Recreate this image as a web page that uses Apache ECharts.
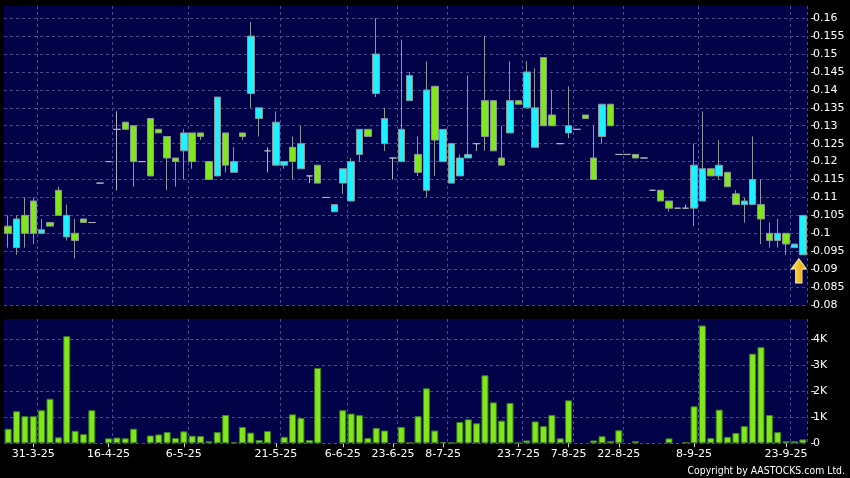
<!DOCTYPE html>
<html>
<head>
<meta charset="utf-8">
<script src="https://cdn.jsdelivr.net/npm/echarts@6/dist/echarts.min.js"></script>
<style>
  html, body { margin: 0; padding: 0; background: #000; }
  #chart { width: 850px; height: 478px; }
</style>
</head>
<body>
<div id="chart"></div>
<script>
// trading days (one candle each)
const dates = [
  '26-3-25', '27-3-25', '28-3-25', '31-3-25',
  '1-4-25', '2-4-25', '3-4-25', '7-4-25', '8-4-25', '9-4-25', '10-4-25', '11-4-25',
  '16-4-25',
  '17-4-25', '22-4-25', '23-4-25', '24-4-25', '25-4-25', '28-4-25', '29-4-25', '30-4-25',
  '6-5-25',
  '7-5-25', '8-5-25', '9-5-25', '12-5-25', '13-5-25', '14-5-25', '15-5-25', '16-5-25', '19-5-25', '20-5-25',
  '21-5-25',
  '23-5-25', '26-5-25', '27-5-25', '28-5-25', '29-5-25', '3-6-25', '5-6-25',
  '6-6-25',
  '9-6-25', '11-6-25', '13-6-25', '17-6-25', '19-6-25',
  '23-6-25',
  '24-6-25', '26-6-25', '30-6-25', '3-7-25', '7-7-25',
  '8-7-25',
  '9-7-25', '10-7-25', '11-7-25', '14-7-25', '15-7-25', '17-7-25', '18-7-25', '22-7-25',
  '23-7-25',
  '24-7-25', '28-7-25', '30-7-25', '1-8-25', '5-8-25',
  '7-8-25',
  '8-8-25', '12-8-25', '14-8-25', '18-8-25', '20-8-25',
  '22-8-25',
  '25-8-25', '26-8-25', '27-8-25', '28-8-25', '29-8-25', '1-9-25', '3-9-25', '5-9-25',
  '8-9-25',
  '9-9-25', '10-9-25', '11-9-25', '12-9-25', '15-9-25', '16-9-25', '17-9-25', '18-9-25', '19-9-25', '22-9-25',
  '23-9-25', '24-9-25', '25-9-25'
]

// dates printed under the chart
const tickLabels = ['31-3-25', '16-4-25', '6-5-25', '21-5-25', '6-6-25', '23-6-25',
  '8-7-25', '23-7-25', '7-8-25', '22-8-25', '8-9-25', '23-9-25']

const openPrices = [
  0.100, 0.104, 0.100, 0.100, 0.101, 0.102, 0.105, 0.105, 0.098, 0.103,
  0.103, 0.114, 0.120, 0.129, 0.129, 0.120, 0.120, 0.116, 0.128, 0.121,
  0.120, 0.128, 0.120, 0.127, 0.115, 0.138, 0.119, 0.120, 0.127, 0.155,
  0.135, 0.123, 0.131, 0.120, 0.120, 0.125, 0.116, 0.114, 0.110, 0.108,
  0.118, 0.120, 0.129, 0.127, 0.150, 0.132, 0.121, 0.129, 0.144, 0.117,
  0.140, 0.126, 0.129, 0.125, 0.121, 0.122, 0.125, 0.127, 0.123, 0.119,
  0.137, 0.136, 0.145, 0.135, 0.130, 0.130, 0.125, 0.130, 0.129, 0.132,
  0.115, 0.136, 0.130, 0.122, 0.122, 0.121, 0.121, 0.112, 0.109, 0.107,
  0.107, 0.107, 0.119, 0.118, 0.116, 0.119, 0.113, 0.108, 0.109, 0.115,
  0.104, 0.098, 0.100, 0.097, 0.097, 0.105
]
const closePrices = [
  0.102, 0.096, 0.105, 0.109, 0.100, 0.103, 0.112, 0.099, 0.100, 0.104,
  0.103, 0.114, 0.120, 0.129, 0.131, 0.130, 0.120, 0.132, 0.129, 0.127,
  0.121, 0.123, 0.128, 0.128, 0.120, 0.116, 0.128, 0.117, 0.128, 0.139,
  0.132, 0.123, 0.119, 0.119, 0.124, 0.118, 0.116, 0.119, 0.110, 0.106,
  0.114, 0.109, 0.122, 0.129, 0.139, 0.125, 0.121, 0.120, 0.137, 0.122,
  0.112, 0.141, 0.120, 0.114, 0.116, 0.121, 0.125, 0.137, 0.137, 0.121,
  0.128, 0.137, 0.135, 0.124, 0.149, 0.133, 0.125, 0.128, 0.129, 0.133,
  0.121, 0.127, 0.136, 0.122, 0.122, 0.122, 0.121, 0.112, 0.112, 0.109,
  0.107, 0.107, 0.107, 0.109, 0.118, 0.116, 0.117, 0.111, 0.108, 0.108,
  0.108, 0.100, 0.098, 0.100, 0.096, 0.094
]
const lowPrices = [
  0.096, 0.094, 0.096, 0.097, 0.100, 0.102, 0.105, 0.098, 0.093, 0.103,
  0.103, 0.114, 0.120, 0.112, 0.129, 0.113, 0.120, 0.116, 0.128, 0.112,
  0.113, 0.115, 0.118, 0.126, 0.115, 0.116, 0.117, 0.117, 0.126, 0.135,
  0.127, 0.117, 0.119, 0.118, 0.115, 0.118, 0.114, 0.114, 0.110, 0.106,
  0.111, 0.109, 0.120, 0.127, 0.138, 0.123, 0.115, 0.120, 0.137, 0.116,
  0.110, 0.116, 0.120, 0.114, 0.116, 0.121, 0.123, 0.123, 0.123, 0.119,
  0.128, 0.136, 0.135, 0.124, 0.130, 0.130, 0.125, 0.1265, 0.129, 0.132,
  0.115, 0.125, 0.130, 0.122, 0.122, 0.121, 0.121, 0.112, 0.109, 0.106,
  0.107, 0.107, 0.102, 0.109, 0.116, 0.115, 0.113, 0.108, 0.103, 0.108,
  0.097, 0.096, 0.096, 0.094, 0.096, 0.094
]
const highPrices = [
  0.105, 0.105, 0.110, 0.110, 0.104, 0.103, 0.113, 0.108, 0.104, 0.104,
  0.103, 0.114, 0.120, 0.134, 0.131, 0.130, 0.120, 0.132, 0.129, 0.127,
  0.121, 0.129, 0.128, 0.128, 0.120, 0.138, 0.128, 0.124, 0.128, 0.159,
  0.135, 0.124, 0.134, 0.120, 0.127, 0.130, 0.116, 0.119, 0.110, 0.108,
  0.118, 0.121, 0.129, 0.129, 0.160, 0.135, 0.121, 0.154, 0.145, 0.127,
  0.148, 0.141, 0.129, 0.125, 0.122, 0.144, 0.125, 0.155, 0.137, 0.130,
  0.148, 0.137, 0.148, 0.146, 0.149, 0.140, 0.125, 0.141, 0.129, 0.133,
  0.130, 0.136, 0.136, 0.122, 0.122, 0.122, 0.121, 0.112, 0.112, 0.109,
  0.107, 0.108, 0.125, 0.134, 0.118, 0.126, 0.117, 0.112, 0.110, 0.127,
  0.115, 0.103, 0.104, 0.100, 0.097, 0.105
]
// volume in thousands of shares
const volumes = [
  0.56, 1.23, 1.04, 1.04, 1.27, 1.71, 0.23, 4.11, 0.48, 0.35,
  1.27, 0, 0.19, 0.22, 0.19, 0.56, 0, 0.30, 0.34, 0.43,
  0.20, 0.46, 0.29, 0.28, 0.08, 0.43, 1.09, 0.04, 0.63, 0.41,
  0.13, 0.47, 0, 0.25, 1.11, 0.97, 0.13, 2.89, 0, 0,
  1.27, 1.14, 1.08, 0.20, 0.59, 0.49, 0, 0.63, 0.03, 1.04,
  2.11, 0.49, 0.05, 0.03, 0.82, 0.92, 0.77, 2.61, 1.57, 0.87,
  1.55, 0.03, 0.11, 0.84, 0.66, 1.09, 0.19, 1.65, 0, 0,
  0.11, 0.27, 0.09, 0.50, 0, 0.08, 0, 0, 0, 0.19,
  0, 0.05, 1.42, 4.52, 0.20, 1.29, 0.25, 0.40, 0.66, 3.44,
  3.69, 1.09, 0.43, 0.08, 0.08, 0.15
]

const GREEN = '#80e81a'
const CYAN = '#1ef0ff'
const NAVY = '#020248'
const GRID_LINE = { color: '#4a4a8c', type: [3, 3], width: 1 }
const FONT = 'DejaVu Sans'

const chart = echarts.init(document.getElementById('chart'))

const isTick = (idx, val) => tickLabels.includes(val)
const isGridLine = idx => idx > 0 && tickLabels.includes(dates[idx - 1])

const candleData = dates.map((d, i) => [openPrices[i], closePrices[i], lowPrices[i], highPrices[i]])
const last = dates.length - 1

const option = {
  backgroundColor: '#000000',
  animation: false,
  grid: [
    { left: 4, right: 43, top: 6, height: 299, show: true, backgroundColor: NAVY, borderWidth: 0 },
    { left: 4, right: 43, top: 319, height: 124.3, show: true, backgroundColor: NAVY, borderWidth: 0 }
  ],
  xAxis: [
    {
      type: 'category',
      gridIndex: 0,
      data: dates,
      boundaryGap: true,
      axisLine: { show: false },
      axisTick: { show: false },
      axisLabel: { show: false },
      splitLine: { show: true, interval: isGridLine, lineStyle: GRID_LINE }
    },
    {
      type: 'category',
      gridIndex: 1,
      data: dates,
      boundaryGap: true,
      offset: 3,
      axisLine: { show: false },
      axisTick: {
        show: true,
        alignWithLabel: true,
        interval: isTick,
        length: 4,
        lineStyle: { color: '#cccccc' }
      },
      axisLabel: {
        show: true,
        interval: isTick,
        margin: 2,
        color: '#ffffff',
        fontSize: 11,
        fontFamily: FONT
      },
      splitLine: { show: true, interval: isGridLine, lineStyle: GRID_LINE }
    }
  ],
  yAxis: [
    {
      type: 'value',
      gridIndex: 0,
      position: 'right',
      offset: 4,
      min: 0.08,
      max: 0.1634,
      interval: 0.005,
      axisLine: { show: false },
      axisTick: { show: true, length: 4, lineStyle: { color: '#cccccc' } },
      axisLabel: {
        margin: 2,
        color: '#ffffff',
        fontSize: 11,
        fontFamily: FONT,
        showMaxLabel: false
      },
      splitLine: { show: true, showMaxLine: false, lineStyle: GRID_LINE }
    },
    {
      type: 'value',
      gridIndex: 1,
      position: 'right',
      offset: 4,
      min: 0,
      max: 4.77,
      interval: 1,
      axisLine: { show: false },
      axisTick: { show: true, length: 4, lineStyle: { color: '#cccccc' } },
      axisLabel: {
        margin: 2,
        color: '#ffffff',
        fontSize: 11,
        fontFamily: FONT,
        showMaxLabel: false,
        formatter: v => (v === 0 ? '0' : v + 'K')
      },
      splitLine: { show: true, showMaxLine: false, lineStyle: GRID_LINE }
    }
  ],
  series: [
    {
      name: 'price',
      type: 'candlestick',
      xAxisIndex: 0,
      yAxisIndex: 0,
      data: candleData,
      barWidth: 7,
      itemStyle: {
        color: GREEN,
        color0: CYAN,
        borderColor: '#8a9898',
        borderColor0: '#8a9898',
        borderColorDoji: '#b4b4c0',
        borderWidth: 1
      },
      markPoint: {
        symbol: 'path://M7,0 L14,10 L10,10 L10,24 L4,24 L4,10 L0,10 Z',
        symbolSize: [15, 24],
        symbolKeepAspect: false,
        symbolOffset: [-4, 16],
        label: { show: false },
        itemStyle: {
          color: new echarts.graphic.LinearGradient(0, 0, 1, 0, [
            { offset: 0, color: '#ffe45a' },
            { offset: 1, color: '#e09a00' }
          ]),
          borderColor: '#fff0a0',
          borderWidth: 1
        },
        data: [{ coord: [dates[last], lowPrices[last]] }]
      }
    },
    {
      name: 'volume',
      type: 'bar',
      xAxisIndex: 1,
      yAxisIndex: 1,
      data: volumes.map(v => (v === 0 ? '-' : v)),
      barWidth: 7,
      itemStyle: {
        color: GREEN,
        borderColor: '#3f7f1f',
        borderWidth: 1
      }
    }
  ],
  graphic: [
    {
      type: 'text',
      x: 845,
      y: 471,
      scaleX: 0.85,
      style: {
        text: 'Copyright by AASTOCKS.com Ltd.',
        font: '11px DejaVu Sans',
        fill: '#ffffff',
        align: 'right',
        verticalAlign: 'middle'
      }
    }
  ]
}

chart.setOption(option)
</script>
</body>
</html>
